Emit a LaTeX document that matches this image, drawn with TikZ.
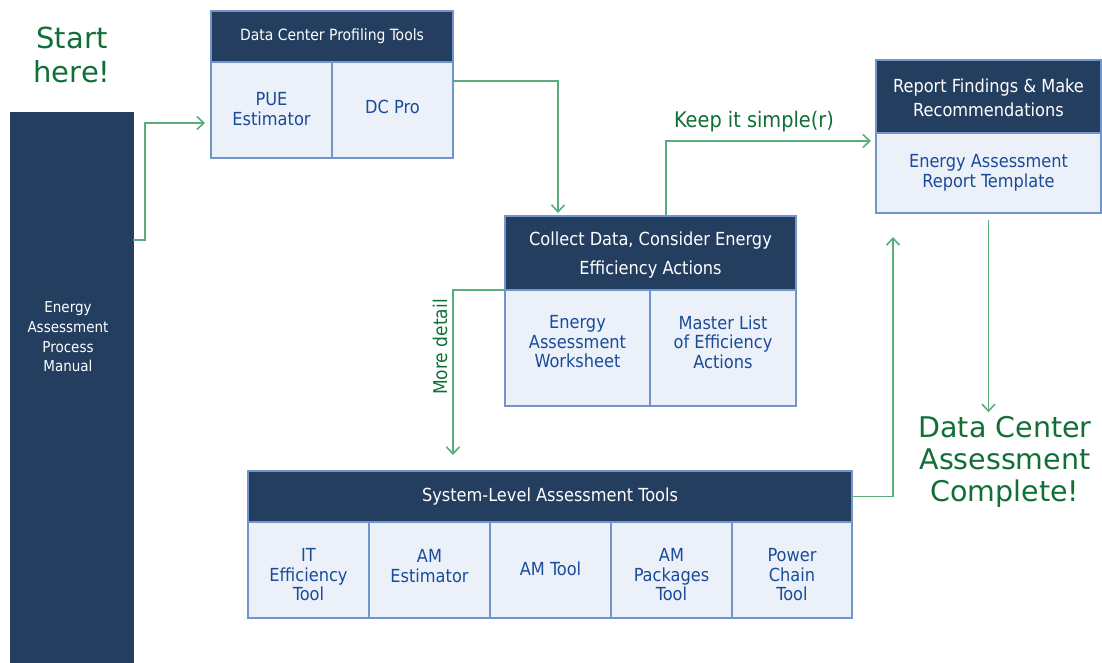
\documentclass[tikz,border=0pt]{standalone}
\usepackage{fontspec}
\setmainfont{DejaVu Sans}
\newfontfamily\condfont{DejaVu Sans Condensed}
\usetikzlibrary{arrows.meta,positioning}

\definecolor{navy}{RGB}{36,62,96}
\definecolor{cellfill}{RGB}{236,241,249}
\definecolor{cellborder}{RGB}{112,150,205}
\definecolor{celltext}{RGB}{25,75,155}
\definecolor{flowline}{RGB}{88,172,125}
\definecolor{greentext}{RGB}{16,110,55}

\tikzset{
  boxbase/.style={anchor=north west, inner sep=0pt, outer sep=0pt,
    draw=cellborder, line width=1.3pt},
  headbox/.style={boxbase, fill=navy, text=white, align=center,
    font=\condfont\fontsize{18}{24}\selectfont},
  cellbox/.style={boxbase, fill=cellfill, text=celltext, align=center,
    font=\condfont\fontsize{18}{19.5}\selectfont},
  celltxt/.style={text=celltext, align=center, inner sep=0pt,
    font=\condfont\fontsize{18}{19.5}\selectfont},
  flow/.style={draw=flowline, line width=1.8pt,
    -{Straight Barb[length=7pt,width=13pt,line width=1.6pt]}},
  bigtext/.style={text=greentext, align=center, inner sep=0pt},
  notetext/.style={text=greentext, inner sep=0pt,
    font=\condfont\fontsize{19}{22}\selectfont},
}

\begin{document}
\begin{tikzpicture}[x=1pt,y=-1pt]
\useasboundingbox (0,0) rectangle (1102,662);

% process manual column
\node[boxbase, fill=navy, draw=navy, minimum width=122pt, minimum height=549pt] (manual) at (11,113) {};
\node[text=white, align=center, inner sep=0pt,
  font=\condfont\fontsize{15}{19.7}\selectfont] (manualtxt) at (68,337)
  {Energy\\Assessment\\Process\\Manual};

% start label
\node[bigtext, font=\fontsize{29}{34}\selectfont] (start) at (72,55) {Start\\here!};

% data center profiling tools
\node[headbox, minimum width=242pt, minimum height=51pt,
  font=\condfont\fontsize{15.5}{20}\selectfont] (profhead) at (211,11)
  {Data Center Profiling Tools};
\node[cellbox, minimum width=121pt, minimum height=96pt] (pue) at (211,62) {};
\node[cellbox, minimum width=121pt, minimum height=96pt] (dcpro) at (332,62) {};
\node[celltxt] at ([yshift=1pt]pue.center) {PUE\\Estimator};
\node[celltxt] at ([yshift=3pt]dcpro.center) {DC Pro};

% collect data
\node[headbox, minimum width=291pt, minimum height=74pt] (collecthead) at (505,216) {};
\node[text=white, align=center, inner sep=0pt,
  font=\condfont\fontsize{18}{29}\selectfont] at ([yshift=-2.5pt]collecthead.center)
  {Collect Data, Consider Energy\\Efficiency Actions};
\node[cellbox, minimum width=145pt, minimum height=116pt] (ws) at (505,290) {};
\node[cellbox, minimum width=146pt, minimum height=116pt] (ml) at (650,290) {};
\node[celltxt] at ([yshift=6pt]ws.center) {Energy\\Assessment\\Worksheet};
\node[celltxt] at ([yshift=6pt]ml.center) {Master List\\of Efficiency\\Actions};

% report findings
\node[headbox, minimum width=225pt, minimum height=73pt] (rephead) at (876,60) {};
\node[text=white, align=center, inner sep=0pt,
  font=\condfont\fontsize{18}{24}\selectfont] at ([yshift=-1.5pt]rephead.center)
  {Report Findings \& Make\\Recommendations};
\node[cellbox, minimum width=225pt, minimum height=80pt] (template) at (876,133) {};
\node[celltxt] at (template.center) {Energy Assessment\\Report Template};

% system-level tools
\node[headbox, minimum width=604pt, minimum height=51pt] (syshead) at (248,471)
  {System-Level Assessment Tools};
\node[cellbox, minimum width=121pt, minimum height=96pt] (ittool) at (248,522) {};
\node[cellbox, minimum width=121pt, minimum height=96pt] (amest) at (369,522) {};
\node[cellbox, minimum width=121pt, minimum height=96pt] (amtool) at (490,522) {};
\node[cellbox, minimum width=121pt, minimum height=96pt] (ampack) at (611,522) {};
\node[cellbox, minimum width=120pt, minimum height=96pt] (power) at (732,522) {};
\node[celltxt] at ([yshift=-5pt]ittool.center) {IT\\Efficiency\\Tool};
\node[celltxt] at ([yshift=4pt]amest.center) {AM\\Estimator};
\node[celltxt] at ([yshift=1pt]amtool.center) {AM Tool};
\node[celltxt] at ([yshift=-5pt]ampack.center) {AM\\Packages\\Tool};
\node[celltxt] at ([yshift=-5pt]power.center) {Power\\Chain\\Tool};

% finish label
\node[bigtext, font=\fontsize{28.5}{32}\selectfont] (done) at (1005,462)
  {Data Center\\Assessment\\Complete!};

% connectors
\draw[flow] ([yshift=-127pt]manual.north east) -- ++(12,0)
  |- ([xshift=-6pt,yshift=-13pt]pue.west);
\draw[flow] ([yshift=29pt]dcpro.east) -| ([xshift=53pt,yshift=3pt]collecthead.north west);
\draw[flow] ([xshift=161pt]collecthead.north west)
  |- ([xshift=-5pt,yshift=32pt]template.west);
\node[notetext, font=\condfont\fontsize{21.5}{24}\selectfont] (simple) at (754,122) {Keep it simple(r)};
\draw[flow] ([yshift=-7pt]template.south)
  -- ([yshift=4pt]template.south |- done.north);
\draw[flow] (ws.north west) -| ([xshift=205pt,yshift=16pt]syshead.north west);
\node[notetext, rotate=90] (detail) at (440,347) {More detail};
\draw[flow] (syshead.east) -| ([xshift=17pt,yshift=-24pt]template.south west);
\end{tikzpicture}
\end{document}
